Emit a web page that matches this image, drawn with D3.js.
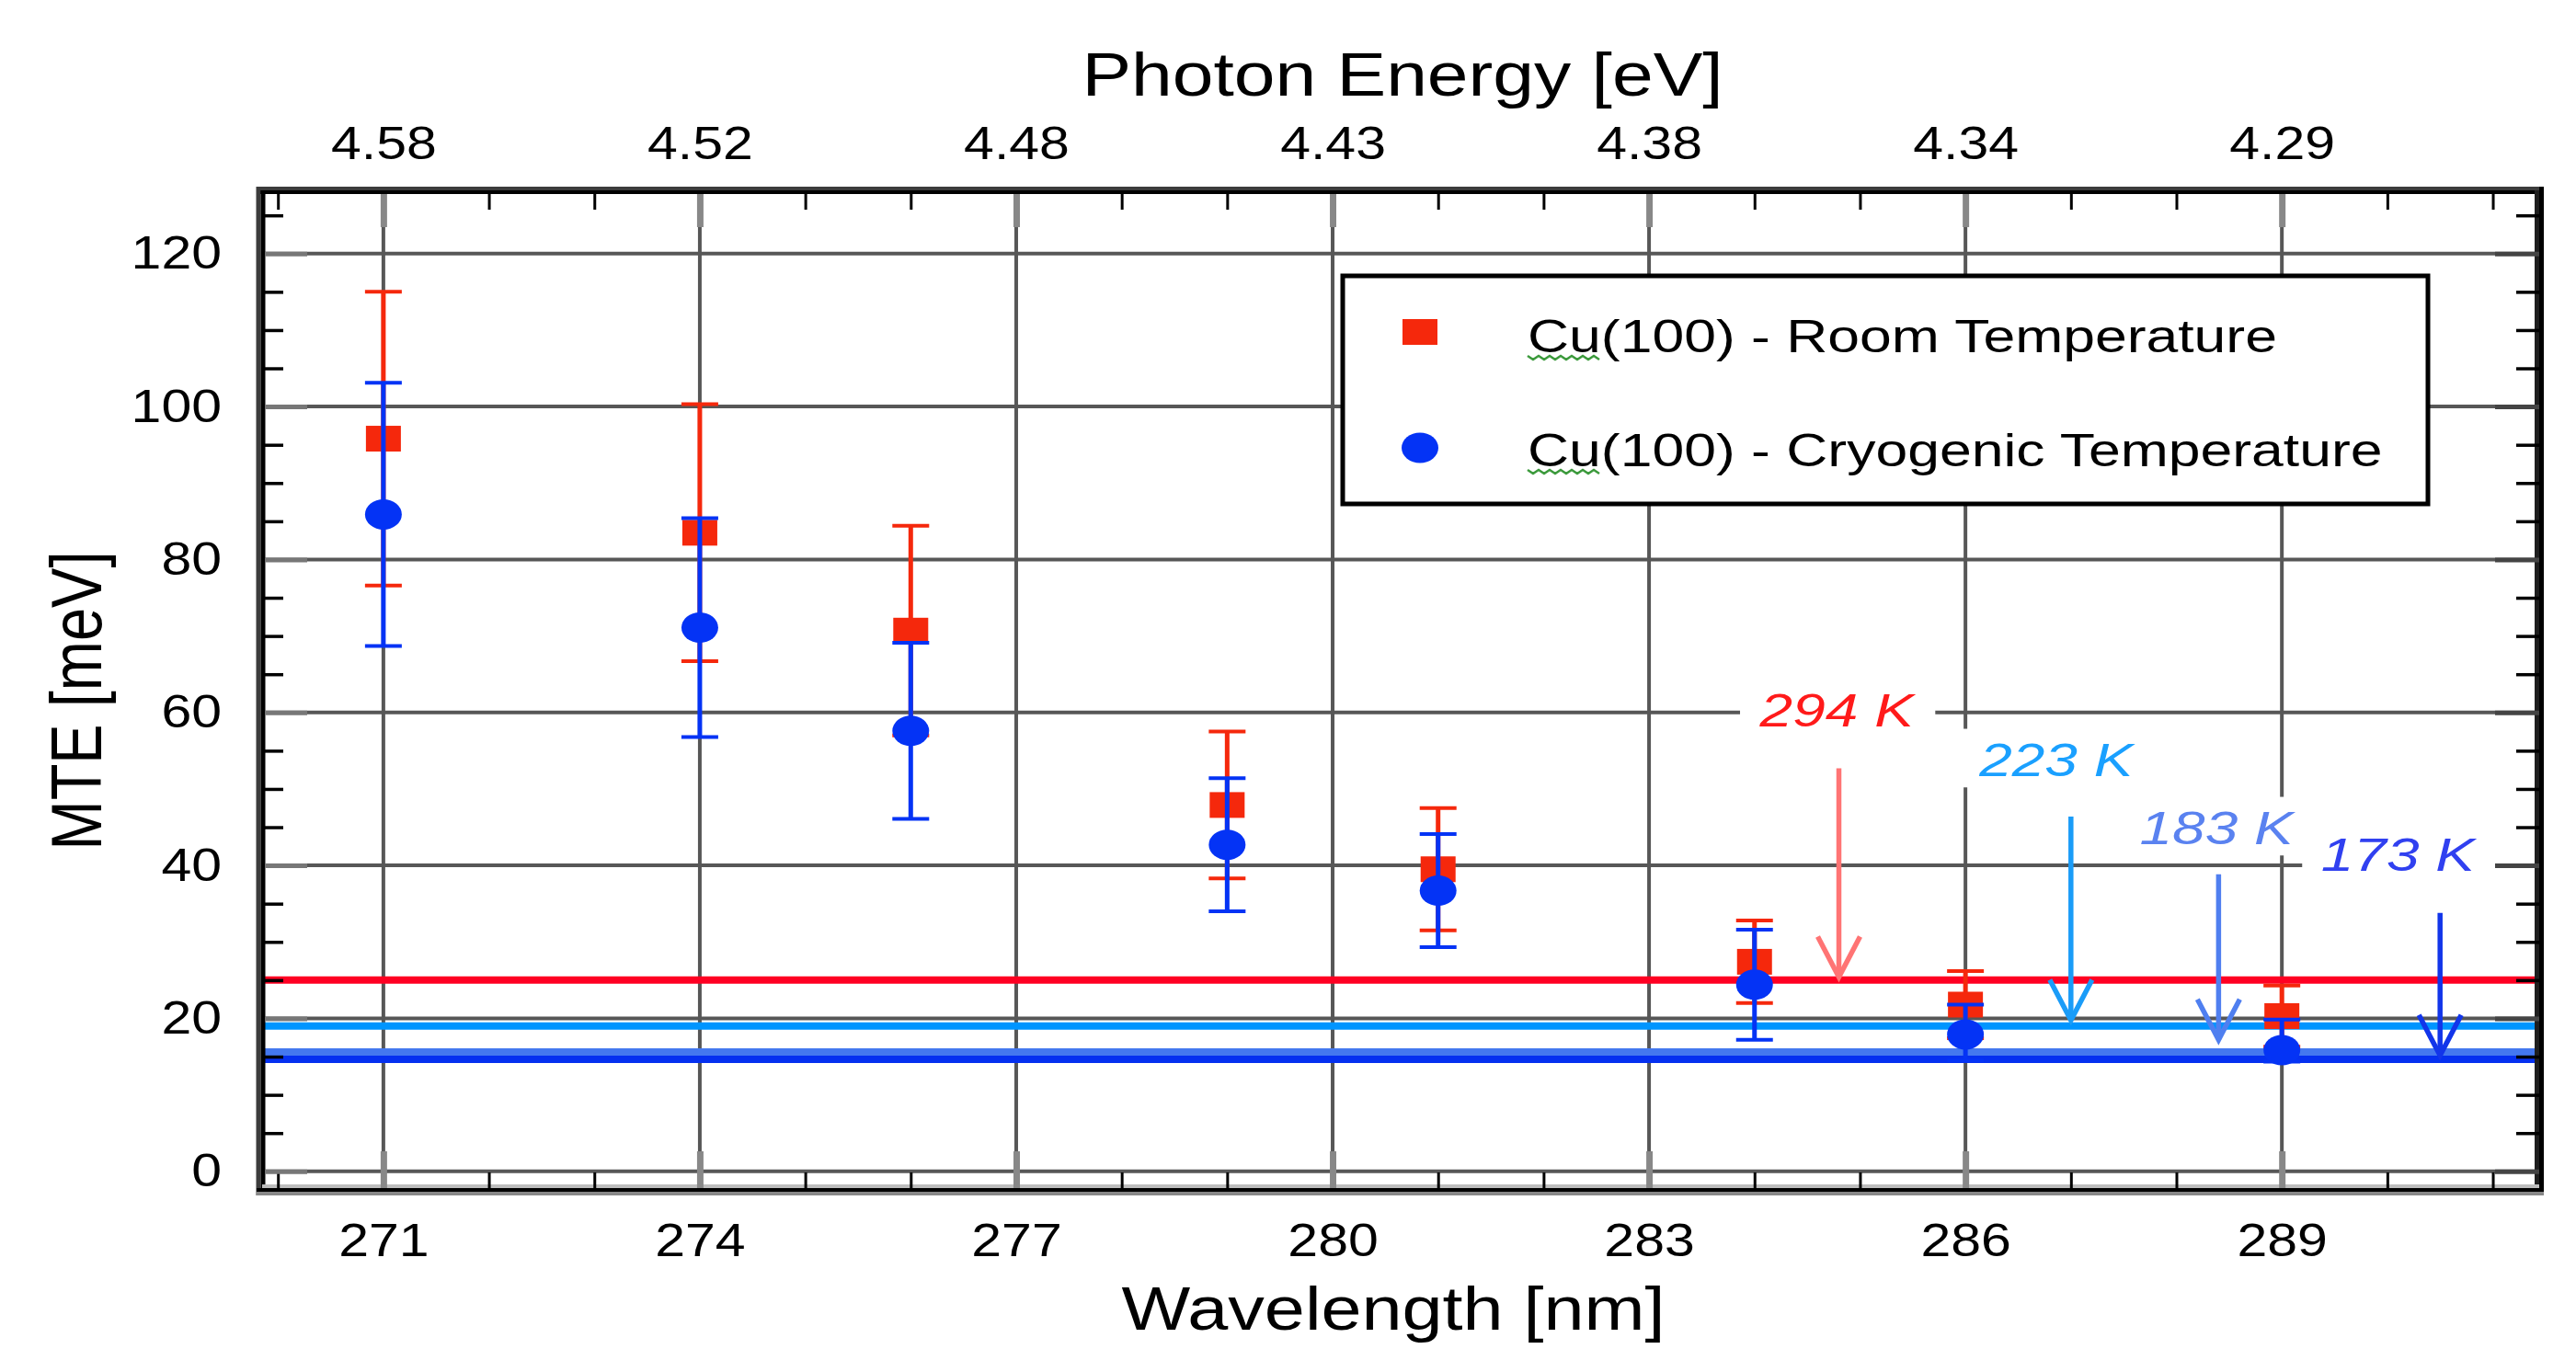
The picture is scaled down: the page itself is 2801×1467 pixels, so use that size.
<!DOCTYPE html>
<html>
<head>
<meta charset="utf-8">
<script src="https://cdn.jsdelivr.net/npm/d3@7"></script>
<style>
body { margin: 0; background: #fff; }
svg { display: block; }
</style>
</head>
<body>
<svg id="chart"></svg>
<script>
// measured points, wavelength in nm
const wavelengths = [271, 274, 276, 279, 281, 284, 286, 289];
// Cu(100) room temperature, MTE and error in meV
const roomMTE = [95.8, 83.5, 70.7, 47.9, 39.5, 27.4, 21.8, 20.3];
const roomErr = [19.2, 16.8, 13.7, 9.6, 8.0, 5.4, 4.4, 4.0];
// Cu(100) cryogenic temperature (upper / lower error)
const cryoMTE = [85.9, 71.1, 57.6, 42.7, 36.7, 24.4, 17.9, 15.85];
const cryoErrUp = [17.2, 14.3, 11.5, 8.7, 7.4, 7.2, 3.9, 4.0];
const cryoErrLow = [17.2, 14.3, 11.5, 8.7, 7.4, 7.2, 3.4, 1.5];

// axis ticks
const majorNm = [271, 274, 277, 280, 283, 286, 289];
const energyLabels = ["4.58", "4.52", "4.48", "4.43", "4.38", "4.34", "4.29"];
const majorMTE = [0, 20, 40, 60, 80, 100, 120];

// kT reference lines with their annotation arrows
const tempLabels = ["294 K", "223 K", "183 K", "173 K"];
const tempMTE = [25.0, 19.0, 15.6, 14.65];
const arrowNm = [284.8, 287.0, 288.4, 290.5];
const arrowFrom = [52.7, 46.4, 38.85, 33.8];
const arrowTo = [25.4, 19.75, 17.2, 15.15];
const labelNm = [284.78, 286.86, 288.38, 290.1];
const labelMTE = [58.2, 51.7, 42.8, 39.3];

const legendLabels = ["Cu(100) - Room Temperature", "Cu(100) - Cryogenic Temperature"];

const lineColors = ["#ff0022", "#0095ff", "#4478ef", "#0530f0"];
const arrowColors = ["#ff7474", "#1a9cf8", "#4f7ff0", "#1235ea"];
const labelColors = ["#ff1a1a", "#1aa0ff", "#5a82f0", "#3040f0"];
const RED = "#f5280c", BLUE = "#0433f5", GRID = "#575757";

const W = 2801, H = 1467;
const svg = d3.select("#chart").attr("width", W).attr("height", H)
    .attr("font-family", "'Liberation Sans', Arial, sans-serif");
svg.append("rect").attr("width", W).attr("height", H).attr("fill", "#fff");

const x = d3.scaleLinear().domain([269.85, 291.44]).range([285, 2761]);
const y = d3.scaleLinear().domain([-2.43, 128.03]).range([1294, 209]);

// the original picture is stretched sideways, so text gets a small x scale
function stretchedText(parent, tx, ty, sx, str, size, anchor) {
    const g = parent.append("g").attr("transform", `translate(${tx},${ty}) scale(${sx},1)`);
    return g.append("text").attr("text-anchor", anchor).attr("font-size", size).text(str);
}

// grid
const grid = svg.append("g").attr("stroke", GRID).attr("stroke-width", 4);
grid.selectAll(".gx").data(majorNm).join("line").attr("class", "gx")
    .attr("x1", d => x(d)).attr("x2", d => x(d)).attr("y1", y.range()[1]).attr("y2", y.range()[0]);
grid.selectAll(".gy").data(majorMTE).join("line").attr("class", "gy")
    .attr("x1", x.range()[0]).attr("x2", x.range()[1]).attr("y1", d => y(d)).attr("y2", d => y(d));

// temperature labels with white boxes over the grid
const labels = svg.append("g");
tempLabels.forEach((t, i) => {
    const g = labels.append("g").attr("transform", `translate(${x(labelNm[i])},${y(labelMTE[i])}) scale(1.28,1)`);
    const txt = g.append("text").attr("text-anchor", "middle").attr("font-size", 50)
        .attr("font-style", "italic").attr("fill", labelColors[i]).text(t);
    const bb = txt.node().getBBox();
    g.insert("rect", "text").attr("x", bb.x - 16).attr("y", bb.y - 6)
        .attr("width", bb.width + 32).attr("height", bb.height + 8).attr("fill", "#fff");
});

// kT lines
svg.append("g").selectAll("line").data(tempMTE).join("line")
    .attr("x1", x.range()[0]).attr("x2", x.range()[1])
    .attr("y1", d => y(d)).attr("y2", d => y(d))
    .attr("stroke", (d, i) => lineColors[i]).attr("stroke-width", 8);

// arrows
const arrows = svg.append("g").attr("fill", "none").attr("stroke-width", 5.5);
arrowNm.forEach((a, i) => {
    const ax = x(a), tip = y(arrowTo[i]);
    arrows.append("line").attr("x1", ax).attr("x2", ax).attr("y1", y(arrowFrom[i])).attr("y2", tip)
        .attr("stroke", arrowColors[i]);
    arrows.append("path").attr("d", `M${ax - 23},${tip - 44}L${ax},${tip}L${ax + 23},${tip - 44}`)
        .attr("stroke", arrowColors[i]);
});

// error bars and markers
function errorBars(vals, errUp, errLow, color) {
    const g = svg.append("g").attr("stroke", color);
    g.selectAll(".bar").data(wavelengths).join("line").attr("class", "bar")
        .attr("x1", d => x(d)).attr("x2", d => x(d))
        .attr("y1", (d, i) => y(vals[i] - errLow[i])).attr("y2", (d, i) => y(vals[i] + errUp[i]))
        .attr("stroke-width", 5);
    [errUp, errLow.map(e => -e)].forEach((errs, k) => {
        g.selectAll(".cap" + k).data(wavelengths).join("line").attr("class", "cap" + k)
            .attr("x1", d => x(d) - 20).attr("x2", d => x(d) + 20)
            .attr("y1", (d, i) => y(vals[i] + errs[i])).attr("y2", (d, i) => y(vals[i] + errs[i]))
            .attr("stroke-width", 4);
    });
}
errorBars(roomMTE, roomErr, roomErr, RED);
svg.append("g").selectAll("rect").data(wavelengths).join("rect")
    .attr("x", d => x(d) - 19).attr("y", (d, i) => y(roomMTE[i]) - 14)
    .attr("width", 38).attr("height", 28).attr("fill", RED);
errorBars(cryoMTE, cryoErrUp, cryoErrLow, BLUE);
svg.append("g").selectAll("ellipse").data(wavelengths).join("ellipse")
    .attr("cx", d => x(d)).attr("cy", (d, i) => y(cryoMTE[i]))
    .attr("rx", 20).attr("ry", 16.5).attr("fill", BLUE);

// frame
const frame = svg.append("g");
const [x0, x1] = x.range(), [yb, yt] = y.range();
frame.append("line").attr("x1", x0 - 6).attr("x2", x1 + 5).attr("y1", yt - 4).attr("y2", yt - 4).attr("stroke", "#3c3c3c").attr("stroke-width", 4);
frame.append("line").attr("x1", x0 - 6).attr("x2", x1 + 5).attr("y1", yt).attr("y2", yt).attr("stroke", "#000").attr("stroke-width", 4);
frame.append("line").attr("x1", x0 - 4).attr("x2", x0 - 4).attr("y1", yt - 6).attr("y2", yb + 6).attr("stroke", "#3c3c3c").attr("stroke-width", 5);
frame.append("line").attr("x1", x0 + 1).attr("x2", x0 + 1).attr("y1", yt - 2).attr("y2", yb + 2).attr("stroke", "#000").attr("stroke-width", 5);
frame.append("line").attr("x1", x1 - 2.5).attr("x2", x1 - 2.5).attr("y1", yt - 2).attr("y2", yb + 2).attr("stroke", "#1e1e1e").attr("stroke-width", 5);
frame.append("line").attr("x1", x1 + 2.5).attr("x2", x1 + 2.5).attr("y1", yt - 6).attr("y2", yb + 2).attr("stroke", "#000").attr("stroke-width", 5);
frame.append("line").attr("x1", x0).attr("x2", x1).attr("y1", yb - 4).attr("y2", yb - 4).attr("stroke", "#bdbdbd").attr("stroke-width", 4);
frame.append("line").attr("x1", x0 - 6).attr("x2", x1 + 5).attr("y1", yb).attr("y2", yb).attr("stroke", "#000").attr("stroke-width", 4);
frame.append("line").attr("x1", x0 - 6).attr("x2", x1 + 5).attr("y1", yb + 4).attr("y2", yb + 4).attr("stroke", "#888").attr("stroke-width", 4);

// ticks, all pointing inwards
const minorNm = d3.range(270, 292).filter(d => !majorNm.includes(d));
const minorMTE = d3.range(5, 130, 5).filter(d => d % 20 !== 0);
function ticks(axisFn, scale, values, size, color, width, tx, ty) {
    const g = svg.append("g").attr("transform", `translate(${tx},${ty})`)
        .call(axisFn(scale).tickValues(values).tickSize(size).tickFormat(""));
    g.select(".domain").remove();
    g.selectAll("line").attr("stroke", color).attr("stroke-width", width);
}
ticks(d3.axisBottom, x, minorNm, -17, "#000", 3, 0, yb - 2);
ticks(d3.axisBottom, x, majorNm, -40, "#888", 7, 0, yb - 2);
ticks(d3.axisTop, x, minorNm, -17, "#000", 3, 0, yt + 2);
ticks(d3.axisTop, x, majorNm, -36, "#888", 7, 0, yt + 2);
ticks(d3.axisLeft, y, minorMTE, -20, "#000", 3.5, x0 + 3, 0);
ticks(d3.axisLeft, y, majorMTE, -46, "#777", 5, x0 + 3, 0);
ticks(d3.axisRight, y, minorMTE, -25, "#000", 3.5, x1, 0);
ticks(d3.axisRight, y, majorMTE, -48, "#444", 5, x1, 0);

// tick labels
const tickFont = 50, tickStretch = 1.18;
const bottomAxis = svg.append("g").attr("transform", `translate(0,${yb})`)
    .call(d3.axisBottom(x).tickValues(majorNm).tickSize(0).tickPadding(37));
const topAxis = svg.append("g").attr("transform", `translate(0,${yt})`)
    .call(d3.axisTop(x).tickValues(majorNm).tickSize(0).tickPadding(36).tickFormat((d, i) => energyLabels[i]));
const leftAxis = svg.append("g").attr("transform", `translate(${x0},0)`)
    .call(d3.axisLeft(y).tickValues(majorMTE).tickSize(0).tickPadding(44));
[bottomAxis, topAxis, leftAxis].forEach(a => {
    a.select(".domain").remove();
    a.attr("font-family", null).attr("font-size", null);
    a.selectAll("text").attr("font-size", tickFont).attr("fill", "#000")
        .attr("transform", `scale(${tickStretch},1)`);
});
leftAxis.selectAll("text").attr("x", -44 / tickStretch);

// axis titles
stretchedText(svg, 1525, 104, 1.2, "Photon Energy [eV]", 67, "middle");
stretchedText(svg, 1515, 1446, 1.2, "Wavelength [nm]", 66, "middle");
svg.append("g").attr("transform", "translate(110,762) scale(1.2,1) rotate(-90)")
    .append("text").attr("text-anchor", "middle").attr("font-size", 65).text("MTE [meV]");

// legend
const legend = svg.append("g");
legend.append("rect").attr("x", 1460).attr("y", 300).attr("width", 1180).attr("height", 248)
    .attr("fill", "#fff").attr("stroke", "#000").attr("stroke-width", 5);
legend.append("rect").attr("x", 1525).attr("y", 347).attr("width", 38).attr("height", 28).attr("fill", RED);
legend.append("ellipse").attr("cx", 1544).attr("cy", 487).attr("rx", 20).attr("ry", 16.5).attr("fill", BLUE);
legendLabels.forEach((l, i) => {
    const base = 383 + i * 124;
    const t = stretchedText(legend, 1661, base, 1.25, l, 50, "start");
    // spell-check squiggle under "Cu"
    const w = t.node().getSubStringLength(0, 2) * 1.25;
    const pts = [];
    for (let px = 0; px <= w; px += 6) pts.push([1661 + px, base + 4 + ((px / 6) % 2 ? 4 : 0)]);
    legend.append("path").attr("d", d3.line()(pts)).attr("fill", "none")
        .attr("stroke", "#3c9a3c").attr("stroke-width", 2.5);
});
</script>
</body>
</html>
